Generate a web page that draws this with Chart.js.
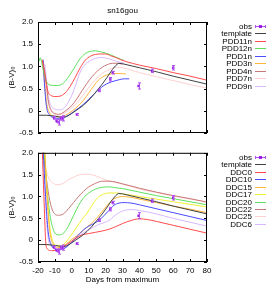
<!DOCTYPE html>
<html>
<head>
<meta charset="utf-8">
<script src="https://cdn.jsdelivr.net/npm/chart.js@4"></script>
<style>
html, body { margin: 0; padding: 0; background: #fff; }
#wrap { position: relative; width: 273px; height: 286px; }
canvas { position: absolute; left: 0; }
</style>
</head>
<body>
<div id="wrap">
  <canvas id="top" width="273" height="143" style="top:0"></canvas>
  <canvas id="bottom" width="273" height="143" style="top:143px"></canvas>
</div>
<script>
// observed colour points (same in both panels)
const obsDays = [-10.5, -9, -7.8, -6.2, -5.2, 3, 16.3, 22.8, 24.2, 39.5, 47.5, 60];
const obsBV = [-0.16, -0.23, -0.26, -0.17, -0.17, -0.08, 0.46, 0.71, 0.86, 0.56, 0.9, 0.97];
const obsErr = [0.03, 0.03, 0.06, 0.04, 0.06, 0.02, 0.03, 0.04, 0.03, 0.07, 0.04, 0.05];

const templateDays = [-20, -15, -10, -7, -5, -3, 0, 3, 6, 9, 12, 15, 18, 21, 24, 26, 27.5, 30, 40, 50, 60, 70, 80];
const templateBV = [-0.1, -0.1, -0.12, -0.14, -0.15, -0.13, -0.06, 0.02, 0.1, 0.2, 0.32, 0.46, 0.6, 0.76, 0.93, 1.02, 1.07, 1.06, 0.97, 0.88, 0.78, 0.69, 0.6];

// top panel models
const pdd11nDays = [-17.5, -16, -15, -14, -12, -10, -7, -4, -1, 2, 5, 8, 11, 14, 17, 20, 23, 26, 29, 32, 40, 50, 60, 70, 80];
const pdd11nBV = [1.15, 0.85, 0.6, 0.42, 0.34, 0.32, 0.33, 0.4, 0.55, 0.75, 0.97, 1.14, 1.23, 1.27, 1.28, 1.28, 1.24, 1.2, 1.15, 1.11, 1.03, 0.95, 0.86, 0.78, 0.69];
const pdd12nDays = [-19.2, -18.8, -18, -16.5, -15, -13, -10, -7, -4, -1, 2, 5, 8, 11, 14, 17, 20, 23, 26, 29, 31];
const pdd12nBV = [1.12, 1.2, 1.12, 0.85, 0.66, 0.58, 0.57, 0.58, 0.66, 0.82, 1.0, 1.18, 1.29, 1.34, 1.35, 1.33, 1.3, 1.26, 1.21, 1.16, 1.13];
const pdd1nDays = [-17, -16, -15, -13, -11, -8, -5, -2, 1, 4, 7, 10, 13, 16, 19, 22, 25, 28, 31, 34];
const pdd1nBV = [1.15, 0.5, 0.1, -0.1, -0.15, -0.17, -0.15, -0.1, -0.02, 0.06, 0.15, 0.26, 0.37, 0.48, 0.57, 0.63, 0.67, 0.7, 0.72, 0.72];
const pdd3nDays = [-17.5, -16, -15, -13, -11, -8, -5, -2, 1, 4, 7, 10, 13, 16, 19, 22, 25, 28, 32];
const pdd3nBV = [1.15, 0.6, 0.2, -0.05, -0.12, -0.14, -0.12, -0.06, 0.02, 0.12, 0.24, 0.4, 0.56, 0.7, 0.78, 0.82, 0.84, 0.84, 0.83];
const pdd4nDays = [-17, -15, -14, -12, -10, -8, -6, -3, 0, 3, 6, 9, 12, 15, 18, 21, 24, 27, 30];
const pdd4nBV = [1.12, 0.6, 0.25, 0.0, -0.06, -0.08, -0.06, 0.02, 0.12, 0.27, 0.45, 0.62, 0.77, 0.89, 0.98, 1.04, 1.07, 1.07, 1.05];
const pdd7nDays = [-17, -15, -14, -12, -10, -8, -6, -3, 0, 3, 6, 9, 12, 15, 18, 21, 24, 27, 30, 40, 50, 60, 70, 80];
const pdd7nBV = [1.1, 0.5, 0.2, -0.02, -0.08, -0.1, -0.08, -0.02, 0.07, 0.18, 0.32, 0.47, 0.62, 0.74, 0.84, 0.91, 0.96, 0.98, 0.97, 0.86, 0.77, 0.68, 0.59, 0.51];
const pdd9nDays = [-16, -15, -14, -12, -10, -8, -6, -4, -2, 0, 2, 4, 6, 8, 11, 14, 17, 20, 23, 26, 29, 31];
const pdd9nBV = [1.05, 0.7, 0.35, 0.1, 0.04, 0.02, 0.03, 0.08, 0.2, 0.35, 0.55, 0.78, 0.95, 1.05, 1.13, 1.18, 1.2, 1.19, 1.16, 1.12, 1.09, 1.07];

// bottom panel models
const ddc0Days = [-17.5, -16.5, -15.5, -14.5, -12, -9, -6, -3, 0, 3, 6, 10, 14, 18, 22, 26, 30, 35, 40, 45, 50, 60, 70, 80];
const ddc0BV = [2.1, 1.0, 0.0, -0.2, -0.24, -0.23, -0.18, -0.1, -0.02, 0.06, 0.12, 0.15, 0.18, 0.21, 0.25, 0.31, 0.38, 0.45, 0.49, 0.47, 0.43, 0.34, 0.25, 0.16];
const ddc10Days = [-17, -15.5, -14, -12, -10, -8, -5, -2, 1, 4, 7, 10, 13, 16, 19, 22, 25, 28, 31, 35, 40, 50, 60, 70, 80];
const ddc10BV = [2.1, 1.0, 0.2, -0.12, -0.2, -0.22, -0.2, -0.12, 0.0, 0.12, 0.24, 0.32, 0.38, 0.45, 0.56, 0.68, 0.8, 0.85, 0.86, 0.85, 0.81, 0.72, 0.63, 0.54, 0.45];
const ddc15Days = [-16, -14.5, -13, -11, -9, -7, -5, -3, 0, 3, 6, 9, 12, 15, 18, 21, 24, 27, 30, 35, 40, 50, 60, 70, 80];
const ddc15BV = [2.1, 0.9, 0.2, -0.1, -0.16, -0.17, -0.14, -0.08, 0.02, 0.1, 0.2, 0.3, 0.4, 0.52, 0.66, 0.8, 0.92, 0.98, 1.0, 0.98, 0.94, 0.86, 0.78, 0.71, 0.63];
const ddc17Days = [-16, -14.5, -13, -11, -9, -7, -5, -3, -1, 1, 3, 6, 9, 12, 15, 18, 22, 26, 30, 40, 50, 60, 70, 80];
const ddc17BV = [2.1, 1.0, 0.3, -0.05, -0.12, -0.13, -0.1, -0.02, 0.08, 0.19, 0.3, 0.47, 0.62, 0.8, 0.96, 1.04, 1.08, 1.08, 1.06, 1.0, 0.94, 0.88, 0.82, 0.76];
const ddc20Days = [-16.5, -15, -13, -11, -9, -7, -5, -3, -1, 1, 3, 5, 7, 10, 14, 18, 22, 26, 30, 40, 50, 60, 70, 80];
const ddc20BV = [2.1, 1.3, 0.6, 0.25, 0.13, 0.12, 0.16, 0.25, 0.4, 0.56, 0.72, 0.86, 0.97, 1.08, 1.17, 1.21, 1.22, 1.2, 1.18, 1.1, 1.02, 0.95, 0.88, 0.81];
const ddc22Days = [-17, -15, -13, -11, -8, -5, -2, 1, 4, 7, 10, 14, 18, 22, 26, 30, 35, 40, 50, 60, 70, 80];
const ddc22BV = [2.1, 1.4, 0.9, 0.65, 0.57, 0.6, 0.72, 0.86, 1.0, 1.12, 1.22, 1.3, 1.35, 1.35, 1.33, 1.29, 1.24, 1.19, 1.1, 1.02, 0.95, 0.87];
const ddc25Days = [-17.5, -16, -14, -11, -8, -5, -2, 1, 5, 10, 15, 20, 25, 30, 35, 40, 50, 60, 70, 80];
const ddc25BV = [2.1, 1.75, 1.45, 1.3, 1.27, 1.3, 1.38, 1.44, 1.5, 1.51, 1.46, 1.38, 1.33, 1.28, 1.23, 1.17, 1.09, 1.01, 0.94, 0.88];
const ddc6Days = [-17, -15.5, -14, -12, -10, -8, -5, -2, 1, 4, 7, 10, 13, 16, 19, 22, 25, 28, 31, 35, 40, 50, 60, 70, 80];
const ddc6BV = [2.1, 0.8, 0.05, -0.15, -0.2, -0.22, -0.2, -0.12, -0.02, 0.08, 0.17, 0.24, 0.3, 0.36, 0.4, 0.45, 0.55, 0.63, 0.68, 0.7, 0.68, 0.6, 0.5, 0.41, 0.32];

const FONT = 'Liberation Sans';
const RED = '#ff4b4b', GREEN = '#5ee05e', BLUE = '#4a4aff', ORANGE = '#ffb43c',
      YELLOW = '#f0f032', BROWN = '#c87878', PINK = '#ffd0d0', LAVENDER = '#d8b8ff';

Chart.defaults.font.family = FONT;
Chart.defaults.font.size = 8;
Chart.defaults.color = '#000';

function pts(xs, ys) {
    return xs.map((d, i) => ({ x: d, y: ys[i] }));
}

function model(label, xs, ys, color, straight) {
    return {
        label: label,
        data: pts(xs, ys),
        showLine: true,
        borderColor: color,
        backgroundColor: color,
        borderWidth: 1,
        pointRadius: 0,
        cubicInterpolationMode: straight ? 'default' : 'monotone',
        tension: 0
    };
}

function obsSet() {
    return {
        label: 'obs',
        data: pts(obsDays, obsBV),
        errors: obsErr,
        pointStyle: 'rect',
        pointRadius: 1.7,
        borderWidth: 0,
        backgroundColor: '#9a1ee6',
        borderColor: '#9a1ee6'
    };
}

// box + inward tick marks, like gnuplot
const frame = {
    id: 'frame',
    afterDatasetsDraw(chart) {
        const { ctx, chartArea: a, scales: { x, y } } = chart;
        ctx.save();
        ctx.strokeStyle = '#000';
        ctx.lineWidth = 1;
        ctx.beginPath();
        x.ticks.forEach(t => {
            const px = Math.round(x.getPixelForValue(t.value)) + 0.5;
            ctx.moveTo(px, a.bottom); ctx.lineTo(px, a.bottom - 3);
            ctx.moveTo(px, a.top); ctx.lineTo(px, a.top + 3);
        });
        y.ticks.forEach(t => {
            const py = Math.round(y.getPixelForValue(t.value)) + 0.5;
            ctx.moveTo(a.left, py); ctx.lineTo(a.left + 3, py);
            ctx.moveTo(a.right, py); ctx.lineTo(a.right - 3, py);
        });
        ctx.stroke();
        ctx.strokeRect(a.left + 0.5, a.top + 0.5, a.right - a.left - 1, a.bottom - a.top - 1);
        ctx.restore();
    }
};

// vertical error bars on the obs points
const errorBars = {
    id: 'errorBars',
    afterDatasetsDraw(chart) {
        const { ctx, scales: { x, y } } = chart;
        ctx.save();
        ctx.strokeStyle = '#b050f0';
        ctx.lineWidth = 1;
        chart.data.datasets.forEach(ds => {
            if (!ds.errors) return;
            ds.data.forEach((p, i) => {
                const px = Math.round(x.getPixelForValue(p.x)) + 0.5;
                const lo = y.getPixelForValue(p.y - ds.errors[i]);
                const hi = y.getPixelForValue(p.y + ds.errors[i]);
                ctx.beginPath();
                ctx.moveTo(px, lo); ctx.lineTo(px, hi);
                ctx.moveTo(px - 1.5, lo); ctx.lineTo(px + 1.5, lo);
                ctx.moveTo(px - 1.5, hi); ctx.lineTo(px + 1.5, hi);
                ctx.stroke();
            });
        });
        ctx.restore();
    }
};

// gnuplot-style key on the right: text right-aligned, sample after it
const key = {
    id: 'key',
    afterDraw(chart) {
        const { ctx, chartArea: a } = chart;
        ctx.save();
        ctx.font = '8px "' + FONT + '"';
        ctx.textAlign = 'right';
        ctx.textBaseline = 'middle';
        chart.data.datasets.forEach((ds, i) => {
            const yy = Math.round(a.top + 4 + i * 7.45) + 0.5;
            ctx.fillStyle = '#000';
            ctx.fillText(ds.label, 252, yy);
            ctx.lineWidth = 1;
            if (ds.errors) {
                ctx.strokeStyle = '#b050f0';
                ctx.beginPath();
                ctx.moveTo(255, yy); ctx.lineTo(266, yy);
                ctx.moveTo(255.5, yy - 1.5); ctx.lineTo(255.5, yy + 1.5);
                ctx.moveTo(265.5, yy - 1.5); ctx.lineTo(265.5, yy + 1.5);
                ctx.stroke();
                ctx.fillStyle = ds.backgroundColor;
                ctx.fillRect(259, yy - 1.5, 3, 3);
            } else {
                ctx.strokeStyle = ds.borderColor;
                ctx.beginPath();
                ctx.moveTo(255, yy); ctx.lineTo(266, yy);
                ctx.stroke();
            }
        });
        ctx.restore();
    }
};

function scalesFor(showX) {
    return {
        x: {
            type: 'linear',
            min: -20,
            max: 80,
            grid: { display: false, drawTicks: false },
            border: { display: false },
            ticks: { display: showX, stepSize: 10, padding: 4, maxRotation: 0 },
            title: { display: showX, text: 'Days from maximum', padding: { top: 0, bottom: 1.2 } },
            afterFit(s) { s.height = showX ? 24 : 10; }
        },
        y: {
            min: -0.5,
            max: 2,
            grid: { display: false, drawTicks: false },
            border: { display: false },
            ticks: { stepSize: 0.5, padding: 5 },
            title: { display: true, text: '(B-V)\u2080', padding: { top: 7.2, bottom: 0 } },
            afterFit(s) { s.width = 38; }
        }
    };
}

new Chart(document.getElementById('top'), {
    type: 'scatter',
    data: {
        datasets: [
            obsSet(),
            model('template', templateDays, templateBV, '#404040', true),
            model('PDD11n', pdd11nDays, pdd11nBV, RED),
            model('PDD12n', pdd12nDays, pdd12nBV, GREEN),
            model('PDD1n', pdd1nDays, pdd1nBV, BLUE),
            model('PDD3n', pdd3nDays, pdd3nBV, ORANGE),
            model('PDD4n', pdd4nDays, pdd4nBV, BROWN),
            model('PDD7n', pdd7nDays, pdd7nBV, PINK),
            model('PDD9n', pdd9nDays, pdd9nBV, LAVENDER)
        ]
    },
    options: {
        responsive: false,
        animation: false,
        layout: { padding: { left: 0, right: 66, top: 0, bottom: 0 } },
        scales: scalesFor(false),
        plugins: {
            legend: { display: false },
            tooltip: { enabled: false },
            title: {
                display: true,
                text: 'sn16gou',
                fullSize: false,
                font: { size: 8, weight: 'normal' },
                padding: { top: 6.2, bottom: 6.2 }
            }
        }
    },
    plugins: [errorBars, frame, key]
});

new Chart(document.getElementById('bottom'), {
    type: 'scatter',
    data: {
        datasets: [
            obsSet(),
            model('template', templateDays, templateBV, '#404040', true),
            model('DDC0', ddc0Days, ddc0BV, RED),
            model('DDC10', ddc10Days, ddc10BV, BLUE),
            model('DDC15', ddc15Days, ddc15BV, ORANGE),
            model('DDC17', ddc17Days, ddc17BV, YELLOW),
            model('DDC20', ddc20Days, ddc20BV, GREEN),
            model('DDC22', ddc22Days, ddc22BV, BROWN),
            model('DDC25', ddc25Days, ddc25BV, PINK),
            model('DDC6', ddc6Days, ddc6BV, LAVENDER)
        ]
    },
    options: {
        responsive: false,
        animation: false,
        layout: { padding: { left: 0, right: 66, top: 9, bottom: 0 } },
        scales: scalesFor(true),
        plugins: {
            legend: { display: false },
            tooltip: { enabled: false }
        }
    },
    plugins: [errorBars, frame, key]
});
</script>
</body>
</html>
